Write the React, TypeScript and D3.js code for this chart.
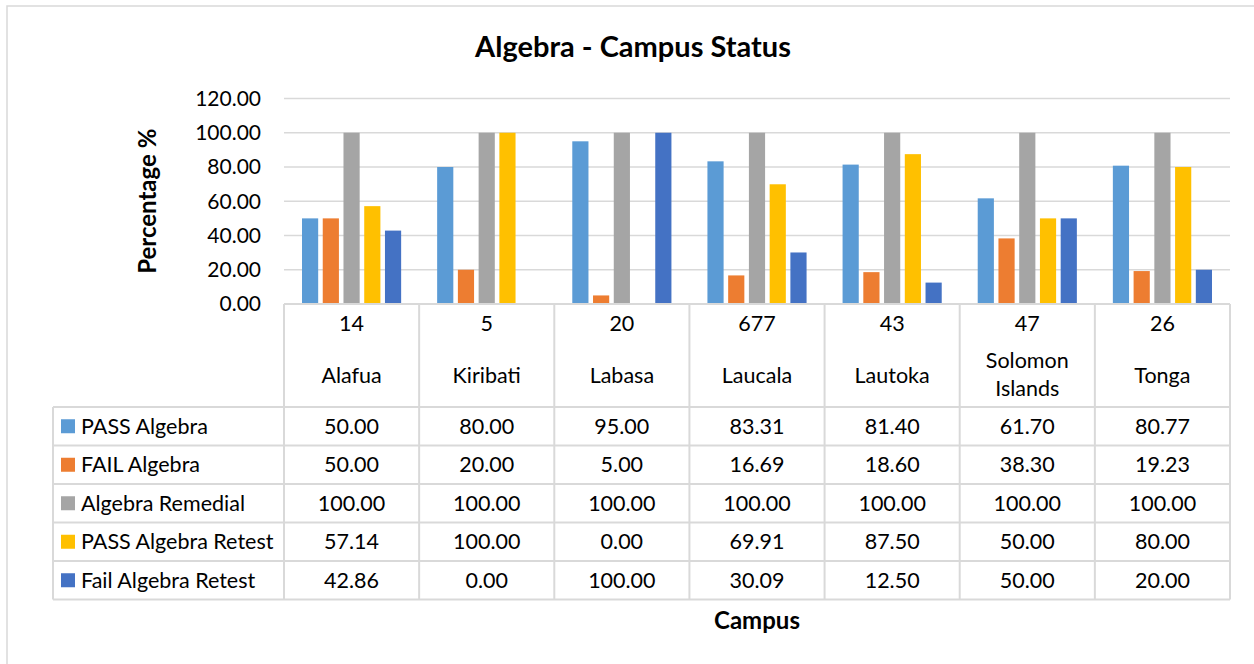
import * as d3 from "d3";
import { useEffect, useRef } from "react";

const campuses = ["Alafua", "Kiribati", "Labasa", "Laucala", "Lautoka", "Solomon Islands", "Tonga"];
const campusCounts = ["14", "5", "20", "677", "43", "47", "26"];
const seriesNames = ["PASS Algebra", "FAIL Algebra", "Algebra Remedial", "PASS Algebra Retest", "Fail Algebra Retest"];
const passAlgebra = [50.0, 80.0, 95.0, 83.31, 81.4, 61.7, 80.77];
const failAlgebra = [50.0, 20.0, 5.0, 16.69, 18.6, 38.3, 19.23];
const algebraRemedial = [100.0, 100.0, 100.0, 100.0, 100.0, 100.0, 100.0];
const passRetest = [57.14, 100.0, 0.0, 69.91, 87.5, 50.0, 80.0];
const failRetest = [42.86, 0.0, 100.0, 30.09, 12.5, 50.0, 20.0];
const yTicks = [0, 20, 40, 60, 80, 100, 120];
const colors = ["#5b9bd5", "#ed7d31", "#a5a5a5", "#ffc000", "#4472c4"];

const W = 1254, H = 664;
const FONT = "Lato, 'Open Sans', sans-serif";

const App = () => {
    const svgRef = useRef<SVGSVGElement | null>(null);

    useEffect(() => {
        const svg = d3.select(svgRef.current);
        svg.selectAll("*").remove();

        const seriesValues = [passAlgebra, failAlgebra, algebraRemedial, passRetest, failRetest];
        const left = 284, right = 1230, top = 98.5, bottom = 304;
        const tableLeft = 53;
        const headerBottom = 407;
        const rowH = 38.5;
        const grid = "#d9d9d9";

        svg.append("rect").attr("width", W).attr("height", H).attr("fill", "#fff");
        // chart border
        svg.append("rect").attr("x", 7).attr("y", 6).attr("width", W).attr("height", H)
            .attr("fill", "none").attr("stroke", grid).attr("stroke-width", 1.5);

        const y = d3.scaleLinear().domain([0, 120]).range([bottom, top]);
        const x0 = d3.scaleBand<string>().domain(campuses).range([left, right]);
        const x1 = d3.scaleBand<string>().domain(seriesNames)
            .range([18, x0.bandwidth() - 18]).paddingInner(0.22);

        // gridlines
        svg.append("g").selectAll("line").data(yTicks.filter(t => t > 0)).join("line")
            .attr("x1", left).attr("x2", right)
            .attr("y1", d => y(d)).attr("y2", d => y(d))
            .attr("stroke", grid).attr("stroke-width", 1.5);

        // y tick labels
        svg.append("g").selectAll("text").data(yTicks).join("text")
            .attr("x", 261).attr("y", d => y(d)).attr("dy", "0.35em")
            .attr("text-anchor", "end")
            .style("font-family", FONT).style("font-size", "21px").attr("fill", "#000")
            .text(d => d.toFixed(2));

        // bars
        const barsG = svg.append("g");
        seriesNames.forEach((s, si) => {
            barsG.append("g").selectAll("rect")
                .data(seriesValues[si])
                .join("rect")
                .attr("x", (_, i) => (x0(campuses[i]) as number) + (x1(s) as number))
                .attr("width", x1.bandwidth())
                .attr("y", d => y(d))
                .attr("height", d => bottom - y(d))
                .attr("fill", colors[si]);
        });

        // data table
        const t = svg.append("g").attr("stroke", grid).attr("stroke-width", 2);
        const tableBottom = headerBottom + rowH * seriesNames.length;
        t.append("line").attr("x1", left).attr("x2", right).attr("y1", bottom).attr("y2", bottom);
        // column separators
        const colEdges = [left, ...campuses.map(c => (x0(c) as number) + x0.bandwidth())];
        t.selectAll("line.col").data(colEdges).join("line").attr("class", "col")
            .attr("x1", d => d).attr("x2", d => d)
            .attr("y1", bottom).attr("y2", tableBottom);
        t.append("line").attr("x1", tableLeft).attr("x2", tableLeft).attr("y1", headerBottom).attr("y2", tableBottom);
        // row separators
        const rowEdges = d3.range(seriesNames.length + 1).map(i => headerBottom + i * rowH);
        t.selectAll("line.row").data(rowEdges).join("line").attr("class", "row")
            .attr("x1", tableLeft).attr("x2", right)
            .attr("y1", d => d).attr("y2", d => d);

        const txt = svg.append("g").style("font-family", FONT).style("font-size", "21.5px")
            .attr("fill", "#000").attr("text-anchor", "middle");

        // header: counts and campus names
        campuses.forEach((c, i) => {
            const cx = (x0(c) as number) + x0.bandwidth() / 2;
            txt.append("text").attr("x", cx).attr("y", 323).attr("dy", "0.35em").text(campusCounts[i]);
            const words = c.split(" ");
            if (words.length > 1) {
                txt.append("text").attr("x", cx).attr("y", 360).attr("dy", "0.35em").text(words[0]);
                txt.append("text").attr("x", cx).attr("y", 388).attr("dy", "0.35em").text(words.slice(1).join(" "));
            } else {
                txt.append("text").attr("x", cx).attr("y", 375).attr("dy", "0.35em").text(c);
            }
        });

        // rows
        seriesNames.forEach((s, si) => {
            const cy = headerBottom + si * rowH + rowH / 2;
            svg.append("rect").attr("x", 61).attr("y", cy - 7).attr("width", 14).attr("height", 14)
                .attr("fill", colors[si]);
            svg.append("text").attr("x", 81).attr("y", cy).attr("dy", "0.35em")
                .style("font-family", FONT).style("font-size", "21.5px").text(s);
            campuses.forEach((c, i) => {
                txt.append("text")
                    .attr("x", (x0(c) as number) + x0.bandwidth() / 2)
                    .attr("y", cy).attr("dy", "0.35em")
                    .text(seriesValues[si][i].toFixed(2));
            });
        });

        // title
        svg.append("text").attr("x", 633).attr("y", 57).attr("text-anchor", "middle")
            .style("font-family", FONT).style("font-size", "29px").style("font-weight", "bold")
            .text("Algebra - Campus Status");

        // axis titles
        svg.append("text").attr("transform", `translate(156,${(top + bottom) / 2}) rotate(-90)`)
            .attr("text-anchor", "middle")
            .style("font-family", FONT).style("font-size", "24px").style("font-weight", "bold")
            .text("Percentage %");
        svg.append("text").attr("x", 757).attr("y", 621).attr("dy", "0.35em").attr("text-anchor", "middle")
            .style("font-family", FONT).style("font-size", "24px").style("font-weight", "bold")
            .text("Campus");
    }, []);

    return (
        <div style={{ position: "absolute", left: 0, top: 0 }}>
            <svg ref={svgRef} width={W} height={H} style={{ display: "block" }} />
        </div>
    );
};

export default App;
